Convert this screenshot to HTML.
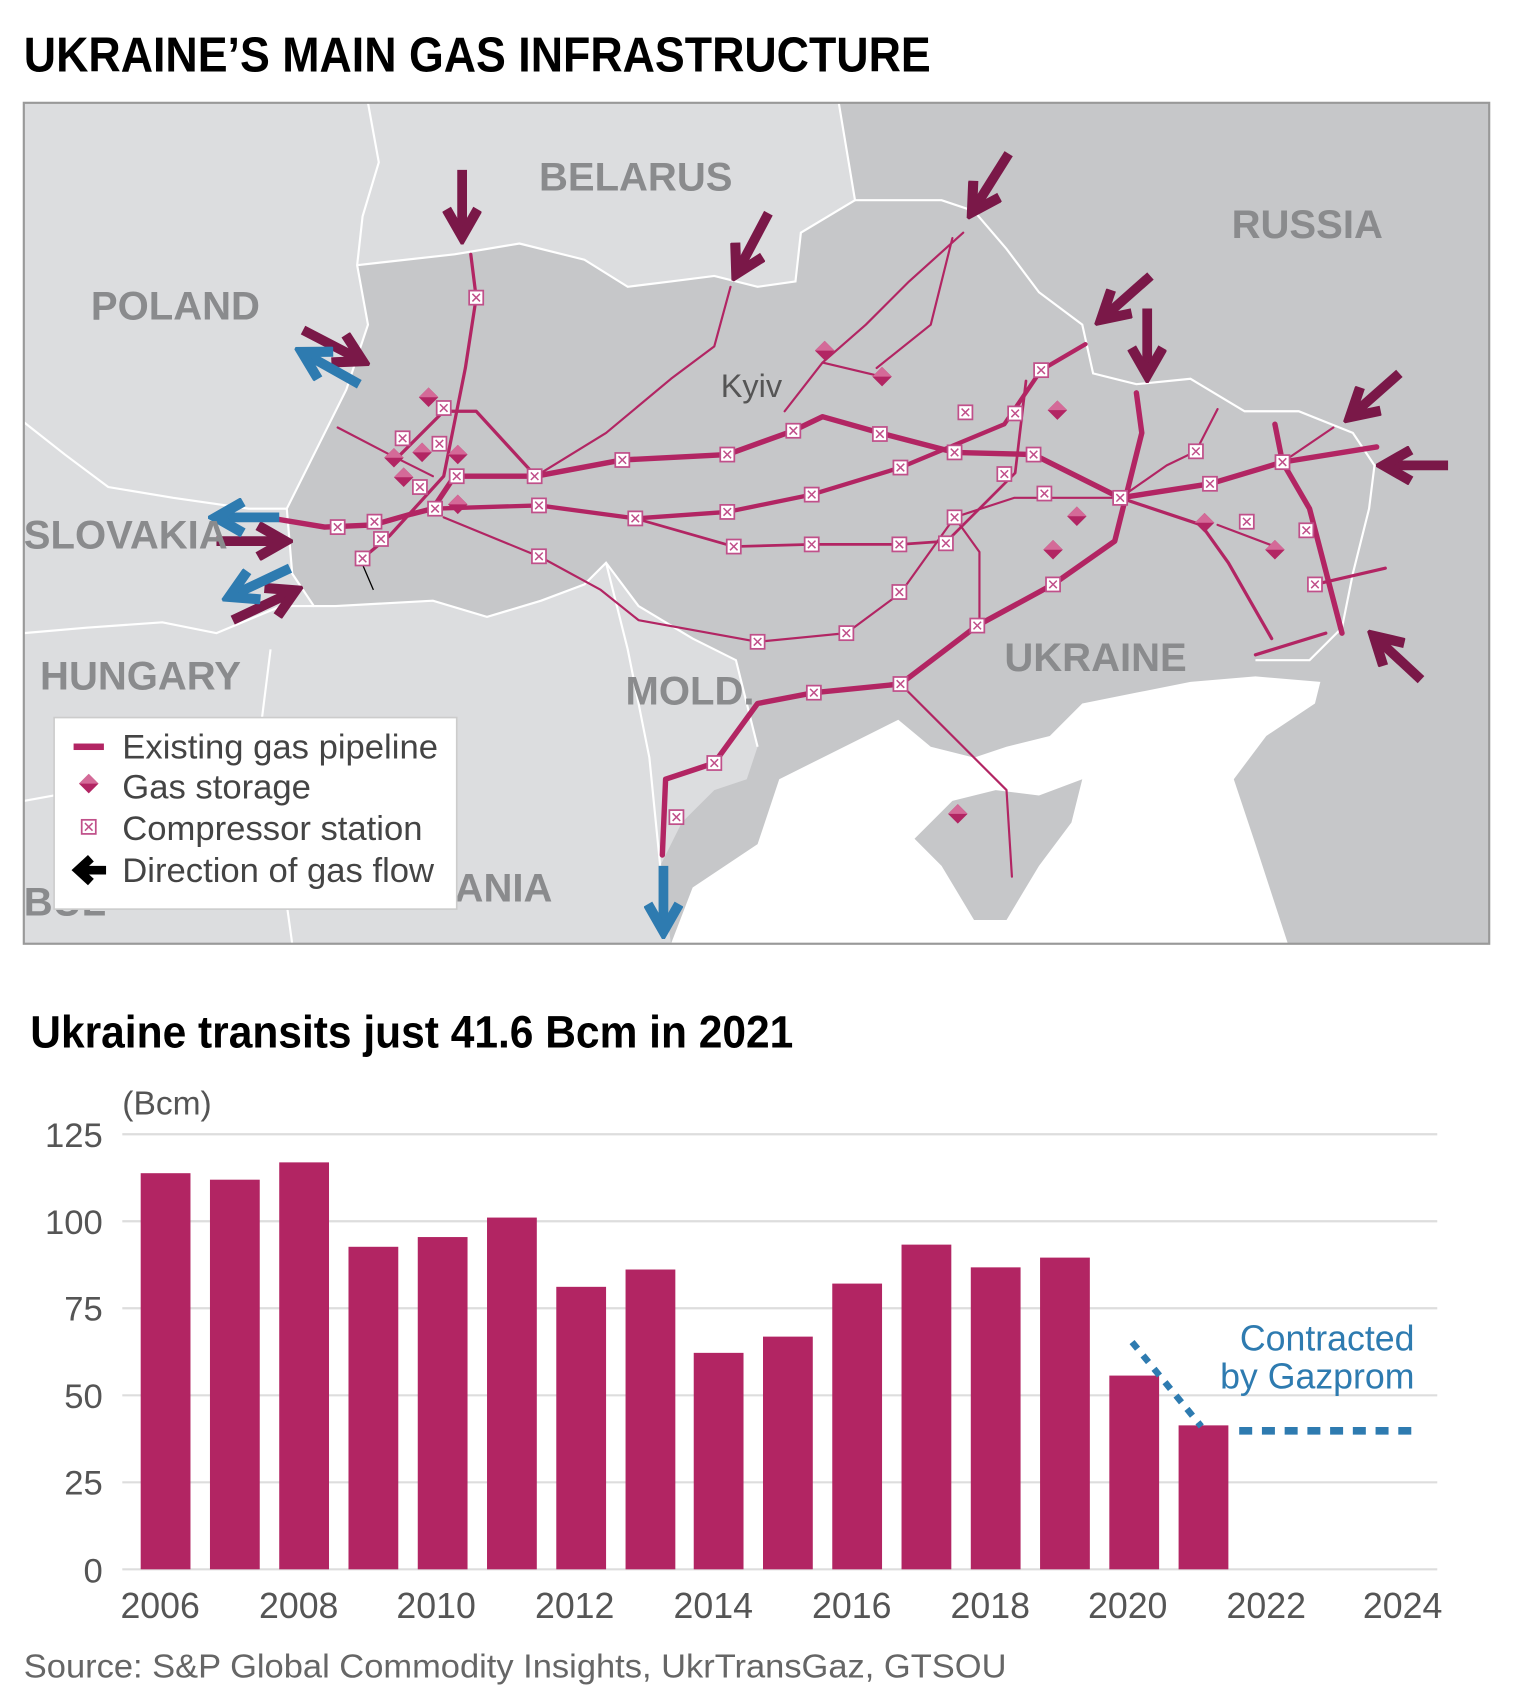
<!DOCTYPE html>
<html><head><meta charset="utf-8"><style>
html,body{margin:0;padding:0;background:#fff;}
svg{display:block;}
</style></head><body>
<svg width="1526" height="1702" viewBox="0 0 1410 1572.6" preserveAspectRatio="none" xmlns="http://www.w3.org/2000/svg">
<defs>
<marker id="ap" viewBox="0 0 10 10" refX="7" refY="5" markerWidth="4" markerHeight="4" orient="auto"><path d="M1,1 L8,5 L1,9" fill="none" stroke="#7a1848" stroke-width="2.6"/></marker>
<marker id="ab" viewBox="0 0 10 10" refX="7" refY="5" markerWidth="4" markerHeight="4" orient="auto"><path d="M1,1 L8,5 L1,9" fill="none" stroke="#2e7bb0" stroke-width="2.6"/></marker>
<g id="cs"><rect x="-6.5" y="-6.5" width="13" height="13" fill="#fff" stroke="#c0508a" stroke-width="1.6"/><path d="M-3.5,-3.5 L3.5,3.5 M3.5,-3.5 L-3.5,3.5" stroke="#c0508a" stroke-width="1.4"/></g>
<g id="gs"><path d="M0,-9 L9,0 L0,9 L-9,0Z" fill="#b22563"/><path d="M-9,0 L0,-9 L9,0Z" fill="#d46a98"/></g>
</defs>
<text x="22" y="66" font-family="Liberation Sans Narrow, Liberation Sans, sans-serif" font-weight="bold" font-size="45" textLength="838" lengthAdjust="spacingAndGlyphs">UKRAINE’S MAIN GAS INFRASTRUCTURE</text>

<!-- map -->
<rect x="22" y="95" width="1354" height="777" fill="#dcdddf"/>
<path d="M330,245 L420,235 L480,225 L540,240 L580,265 L620,260 L660,255 L700,265 L735,260 L740,215 L790,185 L775,95 L1376,95 L1376,872 L620,872 L610,800 L630,760 L660,730 L690,720 L700,690 L690,650 L680,610 L640,590 L590,560 L560,520 L540,540 L500,555 L450,570 L400,555 L310,560 L290,560 L270,530 L265,470 L290,420 L320,360 L340,300 Z" fill="#c6c7c9"/>
<path d="M620,872 L640,820 L700,780 L720,720 L760,700 L800,680 L830,665 L860,690 L900,700 L930,690 L970,680 L1000,650 L1050,640 L1100,630 L1160,625 L1220,630 L1215,650 L1170,680 L1140,720 L1160,780 L1190,872 Z" fill="#fff"/>
<path d="M845,775 L880,740 L920,730 L960,735 L1000,720 L990,760 L960,800 L930,850 L900,850 L870,800 Z" fill="#c6c7c9"/>
<g fill="none" stroke="#fff" stroke-width="2">
<path d="M330,245 L420,235 L480,225 L540,240 L580,265 L620,260 L660,255 L700,265 L735,260 L740,215 L790,185 L775,95"/>
<path d="M790,185 L870,185 L900,195 L930,230 L960,270 L1000,300 L1010,345 L1050,355 L1100,350 L1150,380 L1200,380 L1250,400 L1270,430 L1265,470 L1250,530 L1240,580 L1210,610 L1160,610"/>
<path d="M340,95 L350,150 L335,200 L330,245 L340,300 L320,360 L290,420 L265,470 L270,530 L290,560 L310,560 L400,555 L450,570 L500,555 L540,540 L560,520 L590,560 L640,590 L680,610 L690,650 L700,690"/>
<path d="M22,390 L60,420 L100,450 L160,460 L230,470 L265,470"/>
<path d="M22,585 L80,580 L150,575 L200,585 L260,560 L290,560"/>
<path d="M250,600 L240,680 L260,800 L270,872"/>
<path d="M560,520 L580,600 L600,700 L610,800"/>
<path d="M22,740 L50,735"/>
</g>
<!-- pipelines -->
<g fill="none" stroke="#b22563" stroke-linejoin="round" stroke-linecap="round">
<path stroke-width="5" d="M258,480 L300,487 L345,485 L380,475 L400,470 L420,440 L495,440 L575,425 L672,420 L733,398 L760,385 L813,400 L882,418 L955,420 L1035,460 L1118,447 L1185,427 L1272,413"/>
<path stroke-width="4" d="M400,470 L498,467 L587,479 L672,473 L750,457 L832,432 L928,392 L962,342 L1003,318"/>
<path stroke-width="2" d="M410,478 L500,515 L555,545 L590,573 L700,593 L782,585 L832,548 L882,478 L937,460 L1035,460"/>
<path stroke-width="2.5" d="M587,479 L678,505 L750,503 L832,503 L875,500 L938,437 L948,352"/>
<path stroke-width="5" d="M612,790 L615,720 L660,705 L700,650 L752,640 L832,632 L903,578 L973,540 L1030,500 L1040,460 L1055,400 L1050,363"/>
<path stroke-width="3" d="M330,520 L360,495 L410,440 L430,340 L440,275 L435,235"/>
<path stroke-width="2" d="M495,440 L560,400 L620,350 L660,320 L675,265"/>
<path stroke-width="2" d="M725,380 L760,335 L800,300 L840,260 L890,215 M810,340 L860,300 L880,220 M760,335 L815,348"/>
<path stroke-width="5" d="M1178,392 L1185,427 L1210,470 L1240,585"/>
<path stroke-width="3" d="M1035,460 L1110,485 L1135,520 L1175,590 M1160,605 L1225,585 M1215,540 L1280,525"/>
<path stroke-width="2" d="M1035,460 L1078,430 L1105,417 L1125,378 M1185,427 L1232,395 M1125,485 L1178,505"/>
<path stroke-width="2" d="M312,395 L360,420 L400,440 M832,632 L860,660 L930,730 L935,810 M905,580 L905,510 L882,478"/>
<path stroke-width="3" d="M370,420 L410,380 L440,380 L495,440"/>
</g>
<path d="M330,510 L345,545" stroke="#000" stroke-width="1.2"/>
<g>
<use href="#cs" x="440" y="275"/><use href="#cs" x="410" y="377"/><use href="#cs" x="372" y="405"/><use href="#cs" x="406" y="410"/><use href="#cs" x="388" y="450"/><use href="#cs" x="422" y="440"/><use href="#cs" x="402" y="470"/><use href="#cs" x="312" y="487"/><use href="#cs" x="346" y="482"/><use href="#cs" x="352" y="498"/><use href="#cs" x="335" y="516"/><use href="#cs" x="494" y="440"/><use href="#cs" x="575" y="425"/><use href="#cs" x="672" y="420"/><use href="#cs" x="733" y="398"/><use href="#cs" x="813" y="401"/><use href="#cs" x="882" y="418"/><use href="#cs" x="955" y="420"/><use href="#cs" x="892" y="381"/><use href="#cs" x="938" y="382"/><use href="#cs" x="962" y="342"/><use href="#cs" x="928" y="438"/><use href="#cs" x="965" y="456"/><use href="#cs" x="1035" y="460"/><use href="#cs" x="1105" y="417"/><use href="#cs" x="1118" y="447"/><use href="#cs" x="1185" y="427"/><use href="#cs" x="1152" y="482"/><use href="#cs" x="1207" y="490"/><use href="#cs" x="1215" y="540"/><use href="#cs" x="498" y="467"/><use href="#cs" x="587" y="479"/><use href="#cs" x="672" y="473"/><use href="#cs" x="750" y="457"/><use href="#cs" x="832" y="432"/><use href="#cs" x="498" y="514"/><use href="#cs" x="678" y="505"/><use href="#cs" x="750" y="503"/><use href="#cs" x="831" y="503"/><use href="#cs" x="874" y="502"/><use href="#cs" x="882" y="478"/><use href="#cs" x="831" y="547"/><use href="#cs" x="782" y="585"/><use href="#cs" x="700" y="593"/><use href="#cs" x="903" y="578"/><use href="#cs" x="973" y="540"/><use href="#cs" x="832" y="632"/><use href="#cs" x="752" y="640"/><use href="#cs" x="660" y="705"/><use href="#cs" x="625" y="755"/>
<use href="#gs" x="396" y="367"/><use href="#gs" x="364" y="423"/><use href="#gs" x="390" y="418"/><use href="#gs" x="423" y="420"/><use href="#gs" x="373" y="441"/><use href="#gs" x="423" y="466"/><use href="#gs" x="762" y="324"/><use href="#gs" x="815" y="348"/><use href="#gs" x="977" y="379"/><use href="#gs" x="995" y="477"/><use href="#gs" x="973" y="508"/><use href="#gs" x="1113" y="483"/><use href="#gs" x="1178" y="508"/><use href="#gs" x="885" y="752"/>
</g>
<!-- arrows -->
<g fill="none" stroke-width="9" stroke="#7a1848">
<path marker-end="url(#ap)" d="M427,157 L427,215"/>
<path marker-end="url(#ap)" d="M710,197 L682,250"/>
<path marker-end="url(#ap)" d="M932,142 L900,193"/>
<path marker-end="url(#ap)" d="M1063,255 L1020,293"/>
<path marker-end="url(#ap)" d="M1060,285 L1060,343"/>
<path marker-end="url(#ap)" d="M1293,345 L1250,383"/>
<path marker-end="url(#ap)" d="M1338,430 L1282,430"/>
<path marker-end="url(#ap)" d="M1313,628 L1272,590"/>
<path marker-end="url(#ap)" d="M280,305 L332,332"/>
<path marker-end="url(#ap)" d="M200,500 L260,500"/>
<path marker-end="url(#ap)" d="M215,573 L270,547"/>
</g>
<g fill="none" stroke-width="9" stroke="#2e7bb0">
<path marker-end="url(#ab)" d="M332,355 L282,327"/>
<path marker-end="url(#ab)" d="M258,478 L203,478"/>
<path marker-end="url(#ab)" d="M268,525 L215,550"/>
<path marker-end="url(#ab)" d="M613,800 L613,857"/>
</g>
<g font-family="Liberation Sans Narrow, Liberation Sans, sans-serif" font-weight="bold" font-size="37" fill="#8a8b8d">
<text x="498" y="176">BELARUS</text><text x="84" y="295">POLAND</text><text x="1138" y="220">RUSSIA</text><text x="22" y="507">SLOVAKIA</text><text x="37" y="637">HUNGARY</text><text x="578" y="651">MOLD.</text><text x="928" y="620">UKRAINE</text><text x="420" y="833">ANIA</text><text x="22" y="846">BUL</text>
</g>
<text x="666" y="367" font-family="Liberation Sans Narrow, Liberation Sans, sans-serif" font-size="30" fill="#555">Kyiv</text>
<rect x="50" y="663" width="372" height="177" fill="#fff" stroke="#ccc" stroke-width="1.5"/>
<rect x="68" y="687" width="28" height="6" fill="#b22563"/>
<use href="#gs" x="82" y="724"/>
<use href="#cs" x="82" y="764"/>
<path d="M98,804 L76,804 M84,793 L72,804 L84,815" fill="none" stroke="#000" stroke-width="8"/>
<g font-family="Liberation Sans Narrow, Liberation Sans, sans-serif" font-size="32" fill="#444">
<text x="113" y="701">Existing gas pipeline</text><text x="113" y="738">Gas storage</text><text x="113" y="776">Compressor station</text><text x="113" y="815">Direction of gas flow</text>
</g>
<rect x="22" y="95" width="1354" height="777" fill="none" stroke="#999" stroke-width="2"/>

<!-- chart -->
<text x="28" y="968" font-family="Liberation Sans Narrow, Liberation Sans, sans-serif" font-weight="bold" font-size="42" textLength="705" lengthAdjust="spacingAndGlyphs">Ukraine transits just 41.6 Bcm in 2021</text>
<text x="113" y="1030" font-family="Liberation Sans Narrow, Liberation Sans, sans-serif" font-size="31" fill="#555">(Bcm)</text>
<g stroke="#ddd" stroke-width="2">
<line x1="113" x2="1328" y1="1048" y2="1048"/><line x1="113" x2="1328" y1="1128.4" y2="1128.4"/><line x1="113" x2="1328" y1="1208.8" y2="1208.8"/><line x1="113" x2="1328" y1="1289.2" y2="1289.2"/><line x1="113" x2="1328" y1="1369.6" y2="1369.6"/><line x1="113" x2="1328" y1="1450" y2="1450"/>
</g>
<g font-family="Liberation Sans Narrow, Liberation Sans, sans-serif" font-size="32" fill="#555" text-anchor="end">
<text x="95" y="1060">125</text><text x="95" y="1140">100</text><text x="95" y="1220">75</text><text x="95" y="1301">50</text><text x="95" y="1381">25</text><text x="95" y="1462">0</text>
</g>
<g fill="#b22563">
<rect x="130" y="1084" width="46" height="366"/><rect x="194" y="1090" width="46" height="360"/><rect x="258" y="1074" width="46" height="376"/><rect x="322" y="1152" width="46" height="298"/><rect x="386" y="1143" width="46" height="307"/><rect x="450" y="1125" width="46" height="325"/><rect x="514" y="1189" width="46" height="261"/><rect x="578" y="1173" width="46" height="277"/><rect x="641" y="1250" width="46" height="200"/><rect x="705" y="1235" width="46" height="215"/><rect x="769" y="1186" width="46" height="264"/><rect x="833" y="1150" width="46" height="300"/><rect x="897" y="1171" width="46" height="279"/><rect x="961" y="1162" width="46" height="288"/><rect x="1025" y="1271" width="46" height="179"/><rect x="1089" y="1317" width="46" height="133"/>
</g>
<path d="M1046,1240 L1110,1318" stroke="#2e7bb0" stroke-width="6" stroke-dasharray="8,8" fill="none"/>
<path d="M1145,1322 L1305,1322" stroke="#2e7bb0" stroke-width="7" stroke-dasharray="12,9" fill="none"/>
<g font-family="Liberation Sans Narrow, Liberation Sans, sans-serif" font-size="33" fill="#2e7bb0" text-anchor="end">
<text x="1307" y="1248">Contracted</text><text x="1307" y="1283">by Gazprom</text>
</g>
<g font-family="Liberation Sans Narrow, Liberation Sans, sans-serif" font-size="33" fill="#555" text-anchor="middle">
<text x="148" y="1495">2006</text><text x="276" y="1495">2008</text><text x="403" y="1495">2010</text><text x="531" y="1495">2012</text><text x="659" y="1495">2014</text><text x="787" y="1495">2016</text><text x="915" y="1495">2018</text><text x="1042" y="1495">2020</text><text x="1170" y="1495">2022</text><text x="1296" y="1495">2024</text>
</g>
<text x="22" y="1550" font-family="Liberation Sans Narrow, Liberation Sans, sans-serif" font-size="31" fill="#666" textLength="908" lengthAdjust="spacingAndGlyphs">Source: S&amp;P Global Commodity Insights, UkrTransGaz, GTSOU</text>
</svg>
</body></html>
